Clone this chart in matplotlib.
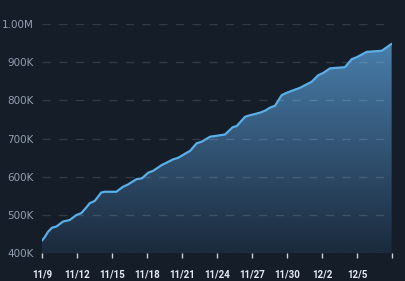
import numpy as np
import matplotlib
matplotlib.use("Agg")
import matplotlib.pyplot as plt
from matplotlib.colors import LinearSegmentedColormap
from matplotlib.patches import Polygon

# ---- data ----
day_offset = [0.0, 0.23, 0.51, 0.86, 1.23, 1.8, 2.37, 2.94, 3.37, 3.8, 4.09, 4.52,
              5.08, 5.37, 6.37, 6.94, 7.37, 8.1, 8.55, 9.11, 9.54, 10.26, 10.54,
              11.25, 11.68, 12.4, 12.69, 13.26, 13.69, 14.4, 15.5, 15.69, 16.35,
              16.69, 17.4, 17.68, 18.69, 19.11, 19.54, 19.97, 20.55, 20.97, 21.4,
              22.11, 22.68, 23.12, 23.68, 24.11, 24.69, 25.97, 26.55, 26.97, 27.83,
              29.12, 29.55, 29.97]
value_k = [433, 442, 456, 467, 470, 483, 487, 500, 505, 520, 531, 537,
           559, 561, 561, 574, 580, 594, 596, 611, 616, 631, 635,
           646, 650, 663, 668, 688, 692, 705, 710, 711, 730,
           733, 757, 760, 768, 773, 781, 786, 814, 820, 825,
           833, 842, 849, 866, 872, 884, 887, 908, 913, 927,
           930, 939, 948]
tick_days = [0, 3, 6, 9, 12, 15, 18, 21, 24, 27, 30]
tick_labels = ["11/9", "11/12", "11/15", "11/18", "11/21", "11/24", "11/27",
               "11/30", "12/2", "12/5", ""]
y_ticks = [400, 500, 600, 700, 800, 900, 1000]
y_labels = ["400K", "500K", "600K", "700K", "800K", "900K", "1.00M"]

BG = "#151d29"
LINE = "#5aafe8"

x = np.array(day_offset)
y = np.array(value_k, dtype=float)

fig = plt.figure(figsize=(4.05, 2.81), dpi=100, facecolor=BG)
ax = fig.add_axes([42/405, 1-253.3/281, 350/405, (253.3-24)/281])
ax.set_facecolor(BG)
ax.set_xlim(0, 30)
ax.set_ylim(400, 1000)

# gradient fill under the line
cmap = LinearSegmentedColormap.from_list("g", ["#1b2a3c", "#4a80ae"])
grad = np.linspace(0, 1, 256).reshape(-1, 1)
img = ax.imshow(grad, extent=[0, 30, 400, 960], origin="lower", aspect="auto",
                cmap=cmap, zorder=1, interpolation="bicubic")
poly = Polygon(np.column_stack([np.r_[x[0], x, x[-1]], np.r_[400, y, 400]]),
               closed=True, facecolor="none", edgecolor="none")
ax.add_patch(poly)
img.set_clip_path(poly)

ax.plot(x, y, color=LINE, lw=1.6, zorder=3, solid_capstyle="round")

# grid
for yt in y_ticks:
    ax.axhline(yt, color="#ffffff", alpha=0.13, lw=1.0, dashes=(6, 6), zorder=2)

for s in ax.spines.values():
    s.set_visible(False)

ax.set_yticks(y_ticks)
ax.set_yticklabels(y_labels)
ax.tick_params(axis="y", length=0, pad=6, labelsize=7.5, labelcolor="#939fae")
ax.set_xticks(tick_days)
ax.set_xticklabels(tick_labels)
ax.tick_params(axis="x", length=3.5, width=1.0, color="#c9d1da", direction="out",
               pad=8, labelsize=7, labelcolor="#e2e9f1")
for lab in ax.get_xticklabels():
    lab.set_fontweight("bold")
    lab.set_family(["Liberation Sans Narrow", "Roboto", "DejaVu Sans"])
for lab in ax.get_yticklabels():
    lab.set_family(["DejaVu Sans"])

fig.savefig("out.png", dpi=100, facecolor=BG)
